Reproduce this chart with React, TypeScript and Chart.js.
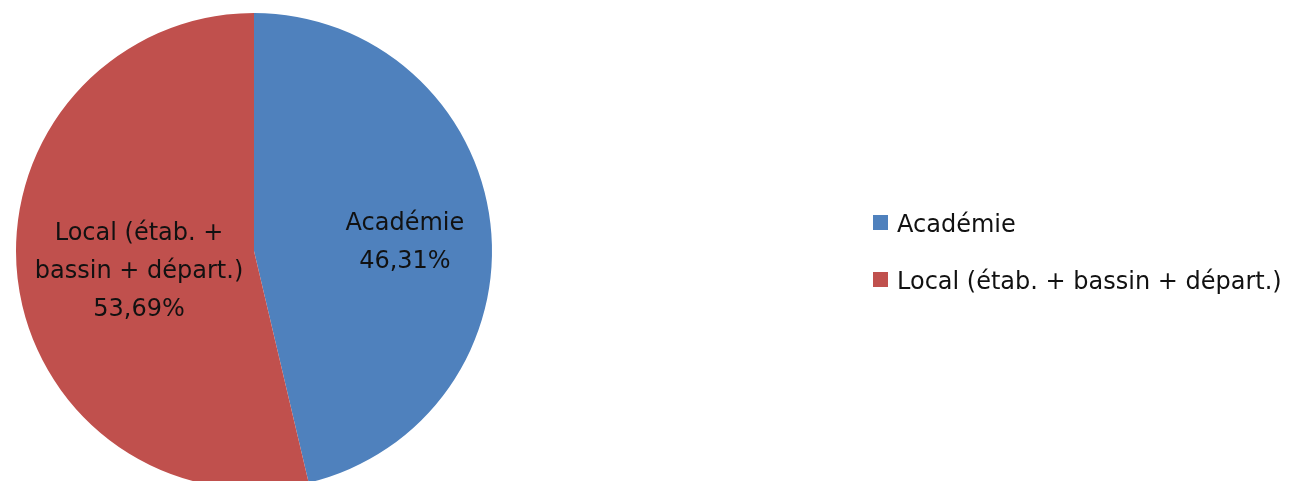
import React, { useEffect, useRef } from "react";
import { Chart, registerables } from "chart.js";

Chart.register(...registerables);

const categories = ["Académie", "Local (étab. + bassin + départ.)"];
const sliceLabelLines = [["Académie"], ["Local (étab. +", "bassin + départ.)"]];
const values = [46.31, 53.69];
const colors = ["#4F81BD", "#C0504D"];
// label placement relative to pie centre, in units of outer radius
const labelOffsets = [
  [0.634, -0.034],
  [-0.483, 0.088],
];

const FONT = "24px 'DejaVu Sans'";

const fmt = (v: number) => v.toFixed(2).replace(".", ",") + "%";

const sliceLabels = {
  id: "sliceLabels",
  afterDatasetsDraw(chart: any) {
    const ctx = chart.ctx;
    const meta = chart.getDatasetMeta(0);
    ctx.save();
    ctx.font = FONT;
    ctx.fillStyle = "#111";
    ctx.textAlign = "center";
    ctx.textBaseline = "middle";
    const lh = 38;
    meta.data.forEach((arc: any, i: number) => {
      const r = arc.outerRadius;
      const cx = arc.x + labelOffsets[i][0] * r;
      const cy = arc.y + labelOffsets[i][1] * r;
      const lines = [...sliceLabelLines[i], fmt(values[i])];
      const start = cy - ((lines.length - 1) * lh) / 2;
      lines.forEach((t, j) => ctx.fillText(t, cx, start + j * lh));
    });
    ctx.restore();
  },
};

const customLegend = {
  id: "customLegend",
  afterDraw(chart: any) {
    const ctx = chart.ctx;
    ctx.save();
    ctx.font = FONT;
    ctx.fillStyle = "#111";
    ctx.textAlign = "left";
    ctx.textBaseline = "alphabetic";
    const x0 = 873;
    const baseY = [232, 289];
    categories.forEach((c, i) => {
      ctx.fillStyle = colors[i];
      ctx.fillRect(x0, baseY[i] - 17, 15, 15);
      ctx.fillStyle = "#111";
      ctx.fillText(c, x0 + 24, baseY[i]);
    });
    ctx.restore();
  },
};

export default function App() {
  const ref = useRef<HTMLCanvasElement | null>(null);
  useEffect(() => {
    document.body.style.margin = "0";
    document.body.style.overflow = "hidden";
    if (!ref.current) return;
    const chart = new Chart(ref.current, {
      type: "pie",
      data: {
        labels: categories,
        datasets: [
          {
            data: values,
            backgroundColor: colors,
            borderWidth: 0,
          },
        ],
      },
      options: {
        animation: false,
        responsive: false,
        devicePixelRatio: 1,
        layout: { padding: { left: 16, right: 803, top: 13, bottom: 13 } },
        plugins: {
          legend: { display: false },
          tooltip: { enabled: false },
        },
      },
      plugins: [sliceLabels, customLegend],
    });
    return () => chart.destroy();
  }, []);
  return (
    <div
      style={{
        position: "fixed",
        left: 0,
        top: 0,
        width: 1295,
        height: 481,
        overflow: "hidden",
        background: "#fff",
      }}
    >
      <canvas ref={ref} width={1295} height={502} style={{ display: "block" }} />
    </div>
  );
}
